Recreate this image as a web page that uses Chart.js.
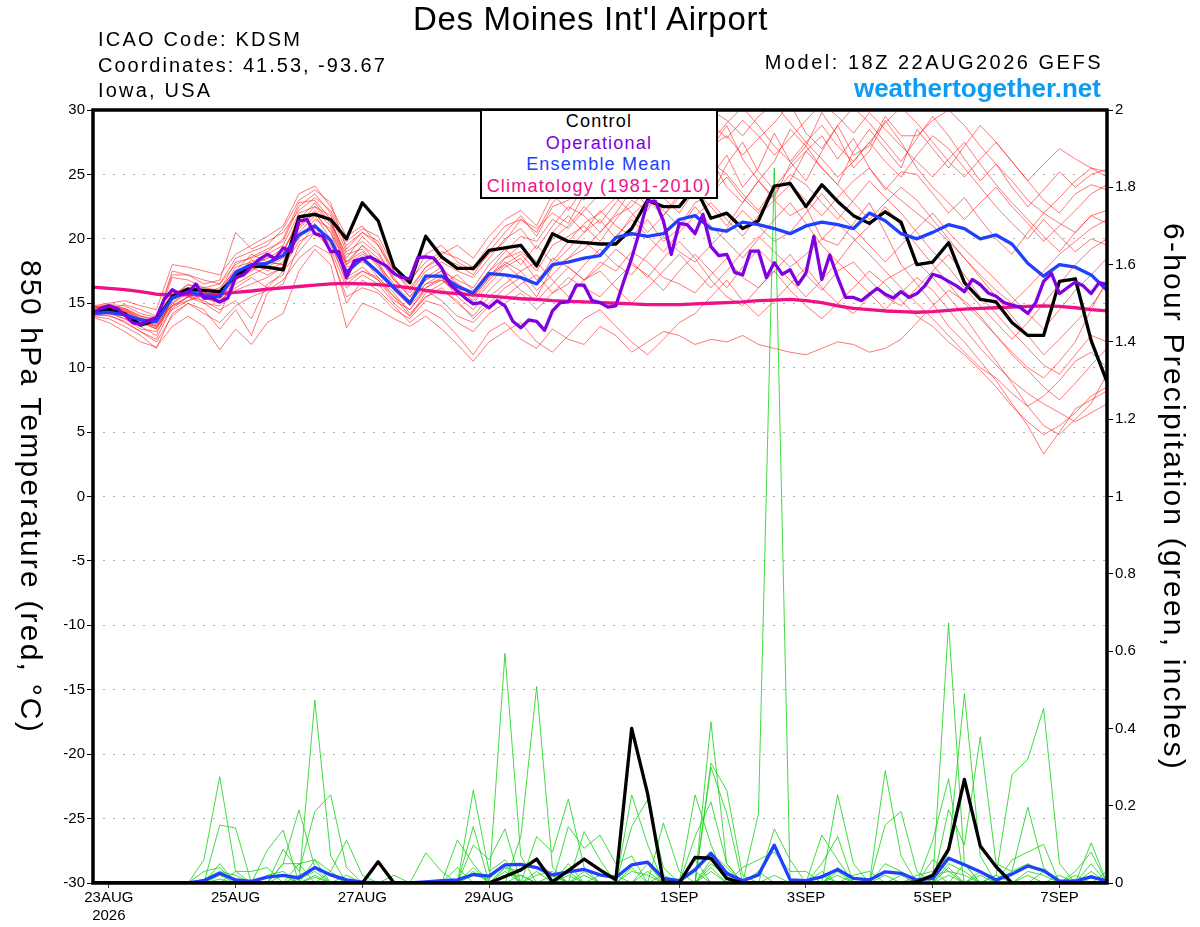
<!DOCTYPE html>
<html>
<head>
<meta charset="utf-8">
<title>Des Moines Int'l Airport - GEFS plume</title>
<script src="https://cdn.jsdelivr.net/npm/chart.js@4.4.1/dist/chart.umd.min.js"></script>
<style>
  html, body { margin: 0; padding: 0; background: #fff; }
  #wrap { position: relative; width: 1200px; height: 927px; overflow: hidden; font-family: 'Liberation Sans', Arial, sans-serif; }
  #chart { position: absolute; left: 0; top: 0; }
  .txt { position: absolute; white-space: nowrap; line-height: 1; color: #000; }
  .head { font-size: 20px; letter-spacing: 2.2px; }
  #title { left: 0; width: 1181px; text-align: center; top: 2px; font-size: 33px; letter-spacing: 0.7px; }
  #site { right: 99px; top: 75px; font-size: 26px; font-weight: bold; color: #0d9cf5; }
  #legendBox { position: absolute; left: 480px; top: 109px; width: 238px; height: 90px; box-sizing: border-box;
    border: 2px solid #000; background: #fff; text-align: center; font-size: 18px; letter-spacing: 1.2px; line-height: 21.7px; }
  .vtitle { position: absolute; writing-mode: vertical-rl; font-size: 30px; letter-spacing: 2.2px; line-height: 36px;
    white-space: nowrap; transform: translateY(-50%); top: 497px; }
</style>
</head>
<body>
<div id="wrap">
  <canvas id="chart" width="1200" height="927"></canvas>
  <div class="txt" id="title">Des Moines Int'l Airport</div>
  <div class="txt head" style="left:98px; top:29px;">ICAO Code: KDSM</div>
  <div class="txt head" style="left:98px; top:55px; letter-spacing:2px;">Coordinates: 41.53, -93.67</div>
  <div class="txt head" style="left:98px; top:80px;">Iowa, USA</div>
  <div class="txt head" style="right:97px; top:52px; letter-spacing:2.5px;">Model: 18Z 22AUG2026 GEFS</div>
  <div class="txt" id="site">weathertogether.net</div>
  <div id="legendBox">
    <div style="color:#000">Control</div>
    <div style="color:#8000e0">Operational</div>
    <div style="color:#2040ff">Ensemble Mean</div>
    <div style="color:#ee1188">Climatology (1981-2010)</div>
  </div>
  <div class="vtitle" style="left:13px;">850 hPa Temperature (red, °C)</div>
  <div class="vtitle" style="left:1156px;">6-hour Precipitation (green, inches)</div>
</div>

<script>
// --- Axis data ---
// hours after 18Z 22AUG2026, members are 6-hourly, the operational run 3-hourly
const stepHours = 6;
const opStepHours = 3;
const tickHours = [6, 54, 102, 150, 222, 270, 318, 366];
const tickLabels = [['23AUG', '2026'], '25AUG', '27AUG', '29AUG', '1SEP', '3SEP', '5SEP', '7SEP'];
const tempTicks = { min: -30, max: 30, step: 5 };
const precipTicks = { min: 0, max: 2, step: 0.2 };

// --- Temperature (850 hPa, C) ---
const controlTemp = [
  14.3,14.5,14.2,13.3,13.7,15.5,16.1,16.0,15.9,17.1,17.9,17.8,17.6,
  21.7,21.9,21.5,20.0,22.8,21.4,17.8,16.6,20.2,18.6,17.7,17.7,19.1,
  19.3,19.5,17.9,20.4,19.8,19.7,19.6,19.6,20.8,23.0,22.5,22.5,24.0,
  21.6,22.0,20.8,21.4,24.1,24.3,22.5,24.2,22.9,21.8,21.2,22.1,21.3,
  18.0,18.2,19.7,16.6,15.3,15.1,13.5,12.5,12.5,16.7,16.9,12.1,8.9
];
const operationalTemp = [
  14.25,14.6,14.8,14.6,14.1,13.5,13.35,13.65,13.9,15.3,16.05,15.7,15.8,
  16.5,15.4,15.4,15.1,15.4,17.0,17.2,17.85,18.4,18.8,18.45,19.3,19.0,
  21.4,21.5,20.4,20.2,19.0,19.0,17.0,18.3,18.45,18.6,18.25,17.9,17.3,
  17.0,16.9,18.55,18.6,18.5,17.75,16.5,15.95,15.4,14.95,15.05,14.65,15.2,
  14.8,13.6,13.1,13.7,13.6,12.9,14.4,15.05,15.1,16.4,16.4,15.2,15.05,
  14.7,14.8,16.7,18.5,20.6,22.9,22.9,21.4,18.8,21.2,21.1,20.4,21.9,
  19.4,18.7,18.8,17.4,17.2,19.05,19.05,17.0,18.15,17.25,17.6,16.45,17.35,
  20.2,16.85,18.75,17.0,15.45,15.45,15.2,15.7,16.15,15.7,15.4,15.9,15.45,
  15.75,16.35,17.25,17.05,16.7,16.35,15.9,16.85,16.45,15.8,15.55,15.05,14.85,
  14.7,14.2,15.05,16.7,17.3,15.75,16.2,16.65,16.35,15.75,16.6,16.45
];
const meanTemp = [
  14.2,14.3,14.1,13.7,13.6,15.4,15.9,15.6,15.5,17.4,18.0,18.1,18.7,
  20.3,21.0,19.9,17.4,18.5,17.4,16.2,15.0,17.1,17.1,16.3,15.8,17.3,
  17.2,17.0,16.5,18.0,18.2,18.5,18.7,20.1,20.4,20.2,20.4,21.5,21.8,
  20.8,20.6,21.3,21.1,20.8,20.4,21.0,21.3,21.1,20.8,22.0,21.4,20.4,
  20.0,20.5,21.1,20.8,20.0,20.3,19.6,18.1,17.1,18.0,17.8,17.2,16.0
];
const climoTemp = [
  16.25,16.15,16.05,15.9,15.7,15.65,15.65,15.65,15.75,15.85,15.95,16.1,16.2,
  16.3,16.4,16.5,16.55,16.5,16.45,16.35,16.2,16.0,15.85,15.75,15.65,15.55,
  15.45,15.35,15.3,15.2,15.15,15.1,15.05,15.0,14.95,14.9,14.9,14.9,14.95,
  15.0,15.05,15.1,15.2,15.25,15.3,15.2,15.05,14.8,14.6,14.5,14.4,14.35,
  14.3,14.35,14.45,14.55,14.6,14.65,14.7,14.75,14.8,14.75,14.65,14.5,14.4
];
const memberTemps = [
  [14.5,14.8,14.6,14.0,13.8,15.6,16.4,16.2,16.5,18.0,18.6,19.2,19.8,
   22.5,23.5,22.0,19.5,20.5,19.8,17.5,16.2,17.8,18.5,18.0,17.2,19.0,
   20.5,21.8,20.2,22.5,23.0,24.2,25.5,26.8,27.5,28.6,29.8,28.5,29.5,
   27.2,28.0,26.5,27.8,29.0,30.5,28.2,27.0,28.8,30.2,29.0,27.5,26.0,
   27.8,29.5,28.0,26.2,24.5,25.8,24.0,22.5,23.8,25.2,24.0,25.0,25.4],
  [14.2,14.0,13.6,12.8,12.2,14.8,15.5,15.0,14.2,16.8,17.5,18.2,18.0,
   20.8,22.0,20.5,17.2,18.5,17.0,15.8,14.2,15.5,16.0,15.2,13.8,15.0,
   16.2,17.0,15.5,17.8,18.5,19.2,20.5,21.8,22.5,24.0,23.2,22.0,23.8,
   22.5,21.0,22.8,24.5,23.0,21.8,22.5,20.0,19.5,21.2,22.8,20.5,18.0,
   16.5,15.0,13.2,12.0,10.5,9.0,7.2,5.5,3.3,5.0,6.8,7.5,8.2],
  [14.0,13.8,13.2,12.5,11.5,14.2,15.0,14.5,13.0,14.5,12.5,15.8,16.5,
   19.5,21.0,19.0,15.0,16.8,16.0,14.8,13.5,14.5,13.8,12.5,11.0,12.8,
   13.5,12.2,11.5,13.0,12.2,11.8,13.2,12.5,11.2,12.0,12.8,12.5,11.8,
   12.2,12.0,12.5,11.8,11.5,11.2,11.0,11.5,12.0,11.8,11.2,11.5,12.2,
   13.5,14.8,16.0,15.2,14.0,12.5,11.0,9.8,8.5,7.5,8.8,10.2,11.5],
  [14.6,14.9,14.8,14.2,13.9,15.8,16.2,15.9,15.4,17.5,18.8,18.2,19.0,
   21.5,22.8,21.2,18.2,19.0,18.0,16.5,15.2,17.0,17.8,16.5,15.8,17.2,
   18.0,18.8,17.5,19.5,20.2,21.0,19.8,21.5,23.0,22.2,24.5,25.8,24.2,
   23.2,25.8,27.5,25.2,23.8,24.5,26.8,28.0,26.2,27.8,25.5,23.8,25.2,
   25.0,23.5,22.0,23.2,21.5,20.0,18.8,20.5,22.0,21.2,20.5,21.8,22.2],
  [14.3,14.5,14.0,13.5,13.2,15.2,16.0,15.5,15.0,16.5,17.2,17.8,18.5,
   20.0,21.5,20.8,17.8,18.2,17.5,16.0,14.8,16.2,17.0,15.5,14.5,16.0,
   17.2,16.0,15.2,16.5,17.8,16.8,18.2,17.5,19.0,18.2,17.0,16.5,15.8,
   17.2,18.5,17.0,16.2,17.5,18.8,17.2,16.0,17.5,18.2,16.8,15.5,14.8,
   16.2,17.5,18.8,17.2,15.5,14.2,12.8,11.5,10.2,9.5,11.0,12.5,12.0],
  [14.8,15.0,15.2,14.8,14.5,18.0,17.8,17.5,17.2,18.8,19.5,20.2,21.0,
   23.5,24.1,22.5,20.2,21.0,19.5,17.2,16.5,18.8,19.5,18.2,17.5,18.8,
   19.8,21.5,20.8,22.0,21.2,23.5,24.8,23.5,25.2,26.5,25.0,27.2,28.8,
   30.0,29.2,28.0,29.5,30.5,29.0,27.5,28.8,27.2,26.0,27.5,29.0,30.2,
   29.0,27.5,26.0,24.8,26.2,27.5,26.0,24.5,23.0,22.0,23.5,24.2,23.8],
  [14.1,14.3,13.8,13.0,12.8,14.5,15.2,15.8,15.2,16.2,17.0,16.2,17.5,
   19.0,20.5,19.8,16.5,17.5,17.0,15.5,14.0,15.8,16.5,17.2,16.0,17.5,
   18.5,19.5,18.2,20.5,21.8,20.5,22.2,21.0,20.2,21.5,19.8,20.8,22.5,
   21.0,19.8,18.5,20.0,21.5,22.8,21.2,19.5,18.2,19.8,21.0,22.5,21.0,
   19.5,18.0,16.5,15.0,13.8,12.5,11.2,10.0,9.2,10.5,12.0,14.5,16.8],
  [14.4,14.6,14.3,13.6,13.0,15.0,15.8,16.0,15.8,17.8,18.2,18.8,19.5,
   22.0,22.5,21.8,19.0,19.8,18.8,17.0,15.5,16.8,17.5,16.8,16.2,18.0,
   19.2,18.0,19.5,18.2,19.8,21.2,22.0,23.2,22.0,20.5,21.8,23.5,25.0,
   26.2,24.0,22.8,24.5,23.2,25.8,27.2,25.5,24.2,26.8,28.5,27.0,25.5,
   28.5,27.0,25.5,27.2,28.8,27.5,26.0,24.5,25.8,27.0,26.2,25.5,24.8],
  [13.9,13.5,12.8,12.0,11.6,13.2,14.0,13.2,11.4,13.0,11.8,13.5,14.2,
   17.5,19.2,18.0,13.1,15.0,14.5,13.8,13.2,14.0,13.0,11.8,10.5,12.0,
   12.8,13.5,12.0,11.2,12.5,13.8,14.5,13.2,12.0,11.0,12.2,13.5,14.2,
   15.5,16.8,15.2,14.0,15.2,16.5,17.8,16.2,15.0,14.2,15.5,16.8,17.5,
   18.2,17.0,15.5,14.0,12.2,10.5,8.8,7.0,5.5,4.8,6.0,7.2,9.5],
  [14.7,14.9,14.5,13.8,13.5,17.0,16.8,16.2,16.0,18.2,18.5,19.0,20.0,
   22.8,23.0,21.5,18.5,20.2,19.0,16.8,15.8,17.5,18.2,17.5,17.0,18.5,
   20.0,20.8,19.2,21.0,22.5,21.8,20.5,22.0,23.8,25.0,26.2,25.0,26.8,
   27.0,28.8,26.2,24.5,26.0,28.5,27.2,29.8,28.0,25.5,26.8,29.2,27.5,
   25.5,24.0,22.8,21.5,22.8,24.0,22.5,21.2,19.8,21.0,22.2,23.5,24.2],
  [14.5,14.4,14.0,13.2,12.5,15.5,16.2,15.0,14.8,16.0,16.5,17.0,17.8,
   20.5,21.8,20.0,17.0,17.8,16.8,15.2,14.5,16.0,15.2,14.0,13.5,14.8,
   15.5,16.5,17.2,15.8,16.5,18.0,19.2,18.0,17.2,18.8,20.2,19.0,18.2,
   19.5,20.8,22.2,21.0,19.8,20.5,22.0,23.5,22.0,20.8,19.5,18.2,19.5,
   20.8,22.0,20.5,19.2,18.0,16.8,15.5,14.2,13.0,14.5,16.0,17.2,18.5],
  [14.2,14.6,14.4,13.8,13.2,14.8,15.5,15.2,14.5,15.2,13.8,16.5,17.2,
   21.0,22.2,21.0,18.0,18.8,18.2,16.2,15.0,16.5,16.8,15.8,15.0,16.5,
   17.8,18.5,16.8,18.0,19.2,20.5,21.5,20.0,21.8,23.0,22.2,21.0,22.8,
   23.5,24.8,23.2,22.0,23.5,25.0,24.2,22.8,21.5,23.0,24.5,23.2,22.0,
   20.5,19.0,17.8,16.2,14.8,13.5,12.2,13.5,15.0,16.5,18.0,19.2,20.0],
  [14.0,14.1,13.5,12.8,12.0,14.0,15.0,14.2,13.5,14.8,15.5,16.0,16.8,
   18.5,19.5,18.8,15.5,16.2,15.8,14.5,13.8,15.2,14.8,13.5,12.8,14.2,
   15.0,15.8,14.5,15.8,17.0,16.2,15.5,16.8,18.0,17.2,16.0,17.5,18.8,
   17.5,16.2,17.8,19.2,18.0,16.8,15.5,16.8,18.2,17.0,15.8,14.5,15.8,
   17.0,16.0,14.5,13.0,11.5,10.2,9.0,8.0,7.2,6.5,5.8,6.5,7.2],
  [14.6,14.8,14.6,14.0,13.6,17.5,17.2,16.5,16.8,20.5,19.2,19.8,20.5,
   22.2,23.2,22.2,19.8,20.8,20.2,17.8,16.8,18.2,19.0,18.5,17.8,19.5,
   21.0,21.5,20.5,22.8,24.0,23.0,24.5,26.0,27.2,26.0,27.5,29.0,30.2,
   29.0,27.8,29.2,28.0,26.5,27.8,29.2,30.5,29.5,28.2,29.8,28.5,27.2,
   26.0,24.8,26.2,27.5,25.8,24.2,22.8,21.5,20.2,19.0,20.5,21.8,21.2],
  [14.4,14.2,13.8,13.4,13.4,15.5,16.5,16.0,15.6,17.2,18.0,18.5,18.8,
   21.8,22.0,20.5,18.0,19.5,18.5,16.8,15.5,17.2,17.0,16.0,15.5,17.0,
   18.2,17.5,16.0,17.2,18.5,19.8,18.8,20.2,21.5,20.2,19.0,20.5,21.8,
   22.8,21.5,20.2,21.8,23.0,24.2,23.0,21.8,23.2,24.5,25.5,24.0,23.0,
   22.0,21.0,19.8,18.5,17.2,16.0,15.0,16.2,17.5,18.8,19.8,20.8,21.5],
  [14.8,14.6,14.2,13.8,13.6,14.8,15.2,15.6,15.2,17.0,17.6,18.2,18.0,
   20.2,21.2,19.5,16.8,17.5,16.8,15.5,14.5,16.2,16.8,16.2,15.2,16.8,
   18.0,17.0,16.5,18.5,17.8,16.8,17.8,19.2,18.2,17.0,18.5,19.8,18.5,
   16.8,15.5,14.8,16.2,17.5,16.0,14.8,13.8,15.0,16.2,17.5,16.5,15.2,
   14.0,13.2,12.0,11.0,9.8,8.5,7.0,5.8,4.8,5.5,6.5,7.8,8.5],
  [14.3,14.7,14.5,13.9,13.3,15.0,16.0,15.8,15.5,17.0,18.4,17.5,18.2,
   21.2,22.5,21.2,18.8,19.2,17.8,16.2,15.2,16.8,17.5,16.2,15.8,17.5,
   19.0,20.2,19.8,21.5,20.8,22.2,23.5,24.8,24.0,22.5,23.8,25.2,26.5,
   24.8,26.5,24.0,25.5,28.2,26.0,24.5,26.8,28.8,26.5,27.2,29.5,28.0,
   28.0,29.2,30.0,28.8,27.2,25.8,24.5,23.0,22.0,23.2,24.5,25.5,25.2],
  [14.5,14.3,14.1,13.5,13.0,15.3,15.8,15.4,15.0,16.8,17.8,17.2,17.8,
   19.8,20.5,19.2,16.2,17.2,16.5,15.0,14.0,15.5,16.2,15.0,14.0,15.5,
   16.5,17.5,18.2,16.8,15.5,16.8,17.5,16.2,15.0,16.2,17.5,18.8,17.5,
   16.2,17.5,19.0,20.2,19.0,17.8,18.8,20.0,21.2,20.0,18.8,17.5,16.2,
   15.0,13.8,12.5,11.2,10.0,9.2,8.0,7.0,7.8,9.0,10.5,11.2,10.0],
  [14.7,14.5,14.9,14.5,14.0,17.2,17.2,16.8,16.5,18.5,19.0,19.5,20.8,
   23.0,23.8,22.8,19.2,20.5,19.5,17.5,16.0,17.8,18.8,19.5,18.5,20.2,
   21.5,22.2,21.0,23.5,22.2,24.0,26.0,27.5,26.2,28.0,29.5,30.2,28.8,
   27.5,29.0,30.2,28.8,27.2,26.0,27.5,26.2,24.8,26.0,27.5,26.0,24.8,
   26.5,28.0,27.0,25.5,24.0,22.5,21.2,20.0,21.5,20.2,19.0,20.0,19.5],
  [14.1,14.4,14.4,13.7,13.1,14.6,15.5,15.8,16.2,17.5,18.0,18.5,19.2,
   21.0,22.0,21.5,18.2,19.5,18.0,16.0,15.0,16.5,17.2,16.5,15.5,17.0,
   18.5,19.0,18.0,20.0,21.0,22.5,21.2,22.8,24.2,23.0,21.8,23.2,24.8,
   26.0,25.0,23.5,22.2,24.0,25.5,26.8,25.5,24.2,22.8,21.5,22.8,24.0,
   23.0,21.5,20.0,18.5,17.0,15.5,14.0,12.5,11.0,12.2,13.5,14.8,16.5]
];

// --- Precipitation (6-hour, inches) ---
const controlPrecip = [
  0,0,0,0,0,0,0,0,0,0,0,0,0,
  0,0,0,0,0,0.055,0,0,0,0,0,0,0,
  0.017,0.034,0.062,0.003,0.032,0.062,0.034,0.008,0.40,0.232,0.003,0,0.066,
  0.064,0.012,0,0,0,0,0,0,0,0,0,0,0,
  0.003,0.02,0.087,0.268,0.096,0.042,0,0,0,0,0,0,0
];
const meanPrecip = [
  0,0,0,0,0,0,0,0.006,0.025,0.008,0.004,0.015,0.02,
  0.013,0.04,0.021,0.008,0.002,0,0,0,0.003,0.006,0.008,0.022,0.018,
  0.047,0.048,0.04,0.021,0.029,0.035,0.021,0.014,0.047,0.054,0.012,0.006,0.034,
  0.077,0.025,0.006,0.021,0.098,0.008,0.006,0.016,0.035,0.012,0.008,0.029,0.025,
  0.008,0.012,0.064,0.047,0.029,0.008,0.023,0.044,0.032,0.005,0.005,0.016,0.005
];
const memberPrecips = [
  [0,0,0,0,0,0,0,0.06,0.275,0.03,0,0,0,
   0.05,0.06,0,0,0,0,0,0,0,0,0,0.24,0.03,
   0.06,0,0,0,0.05,0,0,0,0.228,0.1,0,0,0,
   0.417,0.05,0,0,0,0,0,0.124,0.06,0,0,0,0,
   0,0,0.08,0.49,0.07,0,0,0,0,0,0,0.05,0],
  [0,0,0,0,0,0,0,0,0.15,0.142,0,0,0.05,
   0.189,0.04,0,0,0,0,0,0,0,0,0,0.146,0,
   0.594,0.07,0,0,0,0.133,0.06,0,0,0,0,0,0.228,
   0.1,0,0,0,0.14,0.06,0,0,0,0,0,0.29,0.07,
   0,0,0.673,0.05,0,0.02,0.28,0.32,0.452,0.05,0,0,0],
  [0,0,0,0,0,0,0,0,0.05,0,0,0.085,0.137,
   0,0.473,0.07,0,0,0,0,0,0.078,0.03,0,0,0,
   0,0.12,0.508,0.04,0,0,0,0,0.146,0.215,0.04,0,0,
   0.31,0.24,0.02,0,0,0,0,0,0.228,0.05,0,0,0,
   0,0.11,0.27,0,0,0,0.06,0.08,0.1,0,0,0.104,0],
  [0,0,0,0,0,0,0,0.03,0.04,0,0,0,0.088,
   0.03,0.185,0.228,0.04,0,0,0,0,0,0,0.111,0.05,0,
   0,0,0.12,0.08,0.217,0.04,0,0,0,0,0.155,0.03,0,
   0.30,0.18,0,0.18,1.85,0,0,0,0,0,0,0.15,0.185,
   0.03,0,0.19,0.098,0.378,0.05,0.03,0.196,0.04,0,0.03,0.08,0],
  [0,0,0,0,0,0,0,0,0,0.03,0.03,0.04,0,
   0,0.06,0.03,0.111,0.02,0,0,0,0,0,0,0.098,0.06,
   0.14,0,0,0,0.146,0.09,0.124,0.05,0.07,0,0,0,0.12,
   0.21,0.05,0,0,0,0,0,0.05,0.12,0,0,0,0,
   0,0.06,0.03,0,0,0,0,0,0,0,0,0,0.03],
  [0,0,0,0,0,0,0,0,0,0,0,0,0.05,
   0.05,0,0.03,0,0,0,0.02,0,0,0,0.04,0,0,
   0.04,0.03,0.06,0.02,0,0,0,0,0,0.05,0,0,0.06,
   0,0,0.04,0.06,0.08,0.03,0.03,0,0,0.02,0.03,0,0,
   0.02,0.03,0,0.05,0,0.02,0,0,0,0.02,0,0,0],
  [0,0,0,0,0,0,0,0,0.02,0,0,0,0,
   0,0,0,0,0,0,0,0,0,0,0,0,0,
   0.04,0,0,0.02,0,0,0.02,0.02,0,0,0,0,0.03,
   0,0,0,0.03,0,0,0,0.03,0,0,0,0.05,0.03,
   0,0,0,0,0,0,0,0,0,0,0.02,0,0],
  [0,0,0,0,0,0,0,0,0,0,0,0,0.02,
   0,0.02,0,0,0,0,0,0,0,0,0,0.03,0,
   0,0.02,0,0,0.03,0,0,0,0,0,0,0,0,
   0.05,0.02,0,0,0,0,0,0,0.03,0,0,0,0,
   0,0,0.05,0.03,0,0,0,0.03,0.02,0,0,0,0],
  [0,0,0,0,0,0,0,0.01,0.03,0.02,0,0,0,
   0.02,0.04,0.02,0,0,0,0,0,0,0,0,0.02,0.01,
   0.05,0,0.03,0,0,0.02,0,0,0.03,0.02,0,0,0,
   0.06,0.03,0,0,0,0,0,0,0.02,0,0,0,0,
   0,0,0.04,0,0.02,0,0,0,0.03,0,0,0,0],
  [0,0,0,0,0,0,0,0,0.01,0,0,0,0,
   0.01,0.03,0,0,0,0,0,0,0,0,0,0,0,
   0.02,0.02,0,0,0.02,0,0,0,0,0.03,0,0,0,
   0.03,0,0,0,0.02,0,0,0,0,0,0,0,0.02,
   0,0.02,0.03,0.02,0,0,0,0.02,0,0,0,0.02,0],
  [0,0,0,0,0,0,0,0,0,0,0,0.02,0.03,
   0,0,0,0,0,0,0,0,0,0,0,0.04,0,
   0,0,0.02,0.03,0,0,0,0,0.04,0,0,0,0.04,
   0.08,0.04,0,0,0,0,0,0,0.04,0,0,0.02,0,
   0,0,0,0,0,0,0.03,0.05,0.03,0,0,0.03,0],
  [0,0,0,0,0,0,0,0,0,0,0,0,0,
   0,0.015,0,0.02,0,0,0,0,0,0,0,0,0,
   0.03,0,0,0,0,0.03,0,0,0,0,0.02,0,0,
   0.04,0,0,0,0,0,0,0.02,0,0,0,0,0,
   0,0,0.02,0,0.03,0,0,0,0,0,0.01,0,0]
];

// --- Colours ---
const colors = {
  control: '#000000',
  operational: '#8000e0',
  mean: '#2040ff',
  climo: '#ee1188',
  memberTemp: 'rgba(255, 30, 30, 0.6)',
  memberPrecip: 'rgba(20, 210, 20, 0.8)'
};

// --- Helpers ---
function toPoints(values, step) {
  return values.map((v, i) => ({ x: i * step, y: v }));
}

function lineSet(label, values, step, color, width, axis, order) {
  return {
    label,
    data: toPoints(values, step),
    yAxisID: axis,
    borderColor: color,
    borderWidth: width,
    borderJoinStyle: width > 2 ? 'round' : 'miter',
    pointRadius: 0,
    fill: false,
    tension: 0,
    order
  };
}

function buildDatasets() {
  const sets = [];
  sets.push(lineSet('Operational', operationalTemp, opStepHours, colors.operational, 3.3, 'y', 1));
  sets.push(lineSet('Ensemble Mean', meanTemp, stepHours, colors.mean, 3.3, 'y', 2));
  sets.push(lineSet('Control', controlTemp, stepHours, colors.control, 3.3, 'y', 3));
  sets.push(lineSet('Climatology (1981-2010)', climoTemp, stepHours, colors.climo, 3.3, 'y', 4));
  sets.push(lineSet('Control precip', controlPrecip, stepHours, colors.control, 3.3, 'y1', 5));
  sets.push(lineSet('Mean precip', meanPrecip, stepHours, colors.mean, 3.3, 'y1', 6));
  memberPrecips.forEach((m, k) => {
    sets.push(lineSet('Precip member ' + (k + 1), m, stepHours, colors.memberPrecip, 1, 'y1', 7));
  });
  memberTemps.forEach((m, k) => {
    sets.push(lineSet('Temp member ' + (k + 1), m, stepHours, colors.memberTemp, 1, 'y', 8));
  });
  return sets;
}

// thick black box around the plot area
const framePlugin = {
  id: 'frame',
  afterDatasetsDraw(chart) {
    const { ctx, chartArea: a } = chart;
    ctx.save();
    ctx.strokeStyle = '#000';
    ctx.lineWidth = 3.5;
    ctx.strokeRect(a.left, a.top, a.right - a.left, a.bottom - a.top);
    ctx.restore();
  }
};

// --- Chart ---
Chart.defaults.font.family = "'Liberation Sans', Arial, sans-serif";
Chart.defaults.color = '#000';

new Chart(document.getElementById('chart').getContext('2d'), {
  type: 'line',
  data: { datasets: buildDatasets() },
  options: {
    responsive: false,
    animation: false,
    events: [],
    layout: { padding: { top: 110, left: 0, right: 0, bottom: 0 } },
    plugins: { legend: { display: false }, tooltip: { enabled: false } },
    scales: {
      x: {
        type: 'linear',
        min: 0,
        max: 384,
        afterBuildTicks: s => { s.ticks = tickHours.map(h => ({ value: h })); },
        afterFit: s => { s.height = 44; },
        ticks: {
          autoSkip: false, maxRotation: 0, minRotation: 0, padding: 1,
          font: { size: 15 },
          callback: (v, i) => tickLabels[i]
        },
        grid: { drawOnChartArea: false, tickLength: 5, tickColor: '#444', lineWidth: 1 },
        border: { display: false }
      },
      y: {
        position: 'left',
        min: tempTicks.min,
        max: tempTicks.max,
        afterFit: s => { s.width = 93; },
        ticks: { stepSize: tempTicks.step, padding: 2, font: { size: 15 } },
        grid: { color: '#b0b0b0', lineWidth: 1, tickLength: 6, tickColor: '#000' },
        border: { display: false, dash: [2, 8] }
      },
      y1: {
        position: 'right',
        min: precipTicks.min,
        max: precipTicks.max,
        afterFit: s => { s.width = 93; },
        ticks: {
          stepSize: precipTicks.step, padding: 2, font: { size: 15 },
          callback: v => String(Math.round(v * 10) / 10)
        },
        grid: { drawOnChartArea: false, tickLength: 6, tickColor: '#000', lineWidth: 1 },
        border: { display: false }
      }
    }
  },
  plugins: [framePlugin]
});
</script>
</body>
</html>
